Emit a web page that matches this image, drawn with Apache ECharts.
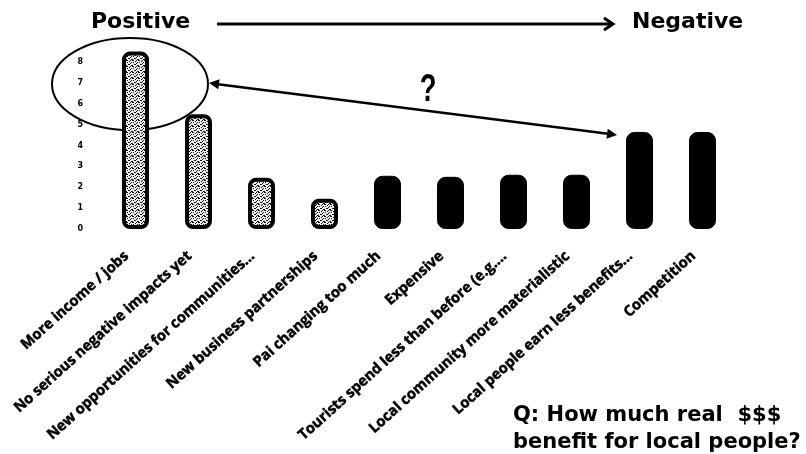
<!DOCTYPE html>
<html>
<head>
<meta charset="utf-8">
<script src="https://cdn.jsdelivr.net/npm/echarts@6/dist/echarts.min.js"></script>
<style>
html,body{margin:0;padding:0;background:#fff;}
#c{width:806px;height:454px;}
</style>
</head>
<body>
<div id="c"></div>
<script>
const categories = [
  'More income / jobs',
  'No serious negative impacts yet',
  'New opportunities for communities…',
  'New business partnerships',
  'Pai changing too much',
  'Expensive',
  'Tourists spend less than before (e.g.…',
  'Local community more materialistic',
  'Local people earn less benefits…',
  'Competition'
];
const values = [8.5, 5.5, 2.45, 1.45, 2.55, 2.5, 2.6, 2.6, 4.65, 4.65];
const sentiment = ['pos','pos','pos','pos','neg','neg','neg','neg','neg','neg'];
const yTicks = [0,1,2,3,4,5,6,7,8];

const pat = document.createElement('canvas');
pat.width = 6; pat.height = 6;
const pc = pat.getContext('2d');
pc.fillStyle = '#eeeeee'; pc.fillRect(0,0,6,6);
pc.fillStyle = '#111';
[[0,0],[3,1],[1,2],[5,2],[4,3],[2,4],[0,5],[5,5],[1,0],[3,4],[4,0]].forEach(p=>pc.fillRect(p[0],p[1],1,1));

const chart = echarts.init(document.getElementById('c'), null, {renderer:'canvas'});

const data = values.map((v,i)=>({
  value: v,
  itemStyle: sentiment[i]==='pos'
    ? {color:{image:pat, repeat:'repeat'}, borderColor:'#000', borderWidth:4, borderRadius:6}
    : {color:'#000', borderColor:'#000', borderWidth:1, borderRadius:8}
}));

function arrowHead(x1,y1,x2,y2,len,half){
  const a = Math.atan2(y2-y1,x2-x1);
  const bx = x2 - len*Math.cos(a), by = y2 - len*Math.sin(a);
  return [[x2,y2],[bx + half*Math.sin(a), by - half*Math.cos(a)],[bx - half*Math.sin(a), by + half*Math.cos(a)]];
}

chart.setOption({
  animation:false,
  backgroundColor:'#fff',
  grid:{left:104, right:72, top:49.5, bottom:225},
  xAxis:{
    type:'category', data:categories,
    axisLine:{show:false}, axisTick:{show:false},
    axisLabel:{interval:0, rotate:42, margin:17, padding:[0,12,0,0], color:'#000',
      fontFamily:'Open Sans', fontWeight:'bold', fontSize:14.6,
      textBorderColor:'#000', textBorderWidth:0.5}
  },
  yAxis:{
    type:'value', min:0, max:8.6, interval:1,
    splitLine:{show:false}, axisLine:{show:false}, axisTick:{show:false},
    axisLabel:{showMaxLabel:false, margin:21, color:'#000', fontFamily:'DejaVu Sans', fontWeight:'bold', fontSize:8,
      formatter:(v)=> yTicks.indexOf(v)>=0 ? String(v) : ''}
  },
  series:[{type:'bar', data:data, barWidth:27}],
  graphic:[
    {type:'text', left:91, top:11, style:{text:'Positive', font:'bold 22px "DejaVu Sans"', fill:'#000'}},
    {type:'text', left:632, top:11, style:{text:'Negative', font:'bold 22px "DejaVu Sans"', fill:'#000'}},
    {type:'line', shape:{x1:217,y1:24,x2:612,y2:24}, style:{stroke:'#000', lineWidth:3}},
    {type:'polyline', shape:{points:[[604,18],[613,24],[604,30]]}, style:{stroke:'#000', lineWidth:3, fill:null}},
    {type:'ellipse', shape:{cx:130, cy:84, rx:78, ry:46}, style:{fill:null, stroke:'#000', lineWidth:2}},
    {type:'line', shape:{x1:216,y1:84,x2:610,y2:134}, style:{stroke:'#000', lineWidth:2.5}},
    {type:'polygon', shape:{points:arrowHead(610,134,209,83,10,5)}, style:{fill:'#000'}},
    {type:'polygon', shape:{points:arrowHead(216,84,617,135,10,5)}, style:{fill:'#000'}},
    {type:'text', x:428, y:91, scaleX:0.72, style:{text:'?', font:'bold 38px "Liberation Sans"', fill:'#000', textAlign:'center', textVerticalAlign:'middle'}},
    {type:'text', left:513, top:405, style:{text:'Q: How much real  $$$', font:'bold 21px "DejaVu Sans"', fill:'#000'}},
    {type:'text', left:513, top:432, style:{text:'benefit for local people?', font:'bold 21px "DejaVu Sans"', fill:'#000'}}
  ]
});
</script>
</body>
</html>
